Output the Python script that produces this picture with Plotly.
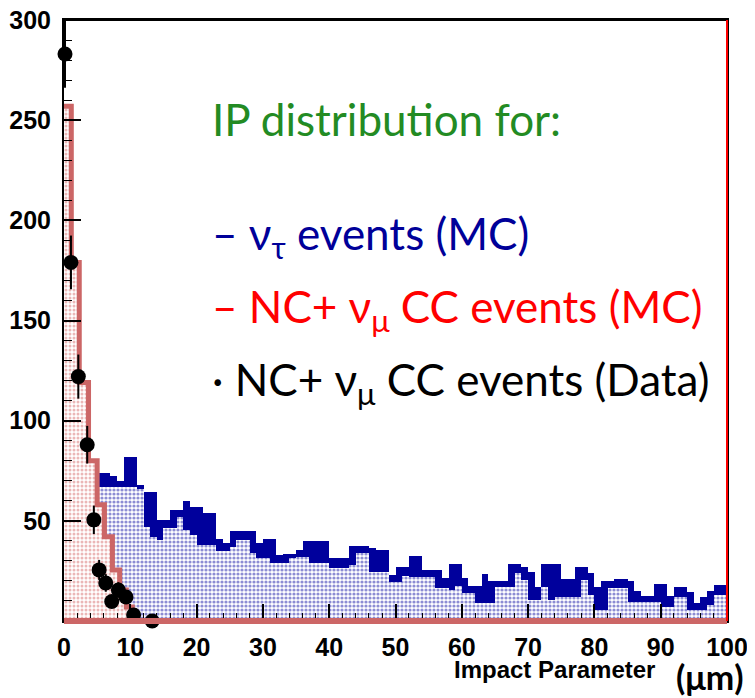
import numpy as np
import plotly.graph_objects as go

# ---------------- data ----------------
bin_width = 1.0  # micrometres, 100 bins over 0..100
nu_tau_outer = [78, 78, 78, 84, 72, 74, 74, 72.5, 70, 82,
                82, 68, 64.6, 64.6, 50.5, 50.5, 55.5, 55.5, 60, 57,
                57, 54, 54, 41, 39, 44.7, 44.7, 44.7, 44.7, 39,
                41, 41, 33, 33.5, 33.5, 35.5, 39.7, 39.7, 39.7, 39.7,
                31.5, 31.5, 31.5, 37.6, 37.6, 37.6, 36.4, 35.5, 35.5, 23,
                27, 27, 32.5, 32.5, 25.5, 25.5, 25.5, 21.5, 28.7, 28.7,
                21.5, 17.5, 17.5, 23.5, 20, 20, 20, 28.5, 28.5, 27,
                24.5, 17, 28.4, 28.4, 28.4, 21, 21, 27, 27, 24,
                17, 20, 20, 21, 21, 20, 15, 12.5, 12.5, 18.3,
                18.3, 12.5, 17, 17, 14.7, 9, 12, 15, 18.2, 18.2]
nu_tau_inner = [70, 70, 70, 70, 69, 67, 67, 67, 67, 67,
                67, 66, 47, 42, 40.5, 46.5, 46.5, 52, 45.5, 43,
                38, 38, 38, 34.7, 34.7, 37, 40.5, 40.5, 34, 31.5,
                31.5, 29, 29, 29, 31.5, 32, 32, 29, 29, 29,
                26.5, 26.5, 26.5, 28, 34, 34, 24.7, 24.7, 24.7, 19.7,
                19.7, 22.5, 22, 22, 22, 22, 16.5, 16.5, 15.5, 17.5,
                14, 14, 9, 9, 9, 17, 17, 17, 24, 20.5,
                10.5, 10.5, 17, 10.5, 12, 12, 12, 12, 20.5, 13,
                5.5, 5.5, 16.5, 16.5, 16.5, 9.7, 9.7, 9.7, 9.7, 9.7,
                7, 7, 12, 12, 5.5, 5.5, 5.5, 8, 13, 13]

bg_edges = [0, 1.1, 2.3, 3.7, 5.0, 6.1, 7.3, 8.4, 9.4, 10.3, 100]
bg_values = [257, 179, 119, 80, 58, 42, 25.5, 15.5, 7, 0]

data_x = [0.15, 1.05, 2.16, 3.5, 4.5, 5.3, 6.3, 7.2, 8.2, 9.35, 10.5, 13.3]
data_y = [283, 179, 122, 88, 50.5, 25.5, 19, 9.7, 15.5, 12, 3, 0]
data_err = [16.8, 13.4, 11, 9.4, 7.1, 5, 4.4, 3.2, 3.9, 3.5, 1.7, 0]

x_ticks = [0, 10, 20, 30, 40, 50, 60, 70, 80, 90, 100]
y_ticks = [50, 100, 150, 200, 250, 300]

# ---------------- figure ----------------
centers = np.arange(len(nu_tau_outer)) * bin_width + bin_width / 2

fig = go.Figure()
fig.add_trace(go.Bar(x=centers, y=nu_tau_outer, width=bin_width,
                     marker=dict(color="#00009c", line=dict(width=0)),
                     showlegend=False, hoverinfo="skip"))
fig.add_trace(go.Bar(x=centers, y=nu_tau_inner, width=bin_width,
                     marker=dict(color="white", line=dict(width=0),
                                 pattern=dict(shape=".", fgcolor="#1a1aa8",
                                              bgcolor="white", size=4, solidity=0.5)),
                     showlegend=False, hoverinfo="skip"))
fig.add_trace(go.Scatter(x=bg_edges, y=bg_values + [bg_values[-1]],
                         mode="lines", line=dict(shape="hv", color="#cc6666", width=5),
                         fill="tozeroy", fillcolor="white",
                         fillpattern=dict(shape=".", fgcolor="#d87070", bgcolor="white",
                                          size=4, solidity=0.45),
                         showlegend=False, hoverinfo="skip"))
fig.add_trace(go.Scatter(x=data_x, y=data_y, mode="markers",
                         marker=dict(color="black", size=15),
                         error_y=dict(type="data", array=data_err, color="black",
                                      thickness=2, width=0),
                         cliponaxis=False, showlegend=False))

tickfont = dict(family="Liberation Sans", size=25, color="black", weight="bold")
fig.update_xaxes(range=[0, 100], tickvals=x_ticks, ticktext=[str(v) for v in x_ticks],
                 ticks="inside", ticklen=17, tickwidth=1.5, tickcolor="black",
                 minor=dict(dtick=2, ticks="inside", ticklen=8, tickcolor="black", tickwidth=1),
                 showline=True, linecolor="black", linewidth=2, mirror=True,
                 showgrid=False, zeroline=False, tickfont=tickfont, ticklabelstandoff=3,
                 automargin=False, ticklabeloverflow="allow")
fig.update_yaxes(range=[0, 300], tickvals=y_ticks, ticktext=[str(v) for v in y_ticks],
                 ticks="inside", ticklen=17, tickwidth=1.5, tickcolor="black",
                 minor=dict(dtick=10, ticks="inside", ticklen=8, tickcolor="black", tickwidth=1),
                 showline=True, linecolor="black", linewidth=2, mirror=True,
                 showgrid=False, zeroline=False, tickfont=tickfont, ticklabelstandoff=6,
                 automargin=False, ticklabeloverflow="allow")

# top frame, bottom thick pink line and red right frame
fig.add_shape(type="line", xref="paper", yref="paper", x0=0, x1=1, y0=1, y1=1,
              line=dict(color="black", width=2), layer="above")
fig.add_shape(type="line", xref="paper", yref="paper", x0=0, x1=1, y0=0, y1=0,
              line=dict(color="#cc6666", width=6), layer="above")
fig.add_shape(type="line", xref="paper", yref="paper", x0=1, x1=1, y0=0, y1=1,
              line=dict(color="#ff0000", width=2), layer="above")

txt_font = "Lato, Noto Sans, sans-serif"
ann = [
    dict(text="IP distribution for:", y=250.5, color="#238b23"),
    dict(text="– ν<sub>τ</sub> events (MC)", y=192, color="#000099"),
    dict(text="– NC+ ν<sub>μ</sub> CC events (MC)", y=155.5, color="#ff0000"),
    dict(text="· NC+ ν<sub>μ</sub> CC events (Data)", y=119, color="#000000"),
]
for a in ann:
    fig.add_annotation(x=22, y=a["y"], xref="x", yref="y", text=a["text"],
                       showarrow=False, xanchor="left", yanchor="middle",
                       font=dict(family=txt_font, size=44, color=a["color"]))

fig.add_annotation(x=0.894, y=-0.08, xref="paper", yref="paper", text="<b>Impact Parameter</b>",
                   showarrow=False, xanchor="right", yanchor="middle",
                   font=dict(family="Liberation Sans", size=24, color="black"))
fig.add_annotation(x=0.974, y=-0.093, xref="paper", yref="paper", text="<b>(μm)</b>",
                   showarrow=False, xanchor="center", yanchor="middle",
                   font=dict(family=txt_font, size=34, color="black"))

# the page body has an 8 px default margin; size the figure so the plot area
# lands where the reference has it inside the 755x698 window
fig.update_layout(width=747, height=690, margin=dict(l=56, r=28, t=12, b=77),
                  barmode="overlay", bargap=0, plot_bgcolor="white", paper_bgcolor="white",
                  showlegend=False)

fig.write_html("out.html")
